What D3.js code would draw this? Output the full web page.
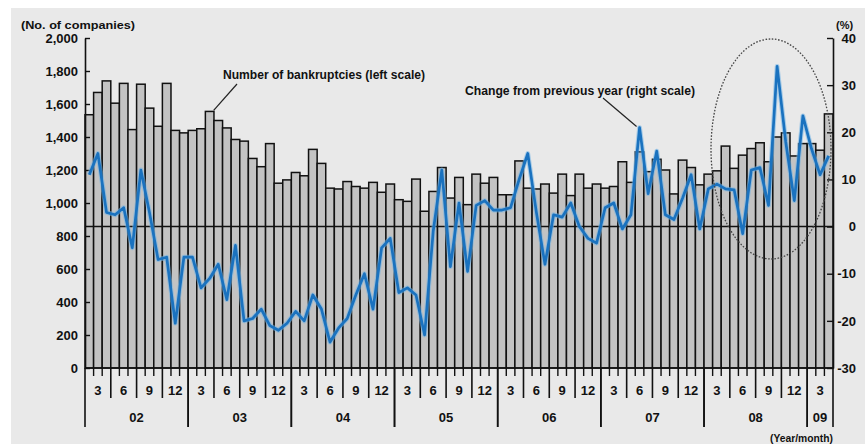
<!DOCTYPE html>
<html>
<head>
<meta charset="utf-8">
<script src="https://cdn.jsdelivr.net/npm/d3@7"></script>
<style>
  html, body { margin: 0; padding: 0; background: #ffffff; }
  svg { display: block; font-family: "Liberation Sans", Arial, sans-serif; font-weight: bold; }
</style>
</head>
<body>
<svg id="chart" width="865" height="444"></svg>
<script>
// Monthly corporate bankruptcies, Jan 2002 – Mar 2009
const years = ["02", "03", "04", "05", "06", "07", "08", "09"];
const monthsInYear = [12, 12, 12, 12, 12, 12, 12, 3];
const quarterLabels = ["3", "6", "9", "12"];

// Number of bankruptcies (left scale)
const bankruptcies = [
  1535, 1670, 1740, 1605, 1725, 1445, 1720, 1575, 1465, 1725, 1440, 1425, // 02
  1440, 1450, 1555, 1500, 1455, 1385, 1375, 1270, 1220, 1360, 1120, 1140, // 03
  1185, 1165, 1325, 1240, 1090, 1085, 1130, 1100, 1090, 1125, 1065, 1115, // 04
  1020, 1010, 1145,  950, 1070, 1215, 1030, 1155,  990, 1175, 1120, 1155, // 05
  1050, 1050, 1255, 1090, 1085, 1115, 1060, 1175, 1045, 1175, 1090, 1115, // 06
  1090, 1100, 1250, 1125, 1310, 1190, 1265, 1200, 1055, 1260, 1215, 1110, // 07
  1175, 1195, 1345, 1210, 1290, 1330, 1365, 1250, 1400, 1425, 1285, 1360, // 08
  1360, 1320, 1540                                                        // 09
];

// Change from previous year, % (right scale)
const yoyChange = [
   11, 15.5,    3,  2.5,    4, -4.5,   12,    3,   -7, -6.5, -20.5, -6.5, // 02
 -6.5,  -13,  -11,   -8, -15.5,  -4,  -20, -19.5, -17.5, -21,  -22, -20.5, // 03
  -18,  -20, -14.5, -17.5, -24.5, -21.5, -19.5, -14.5, -10, -17.5, -4.5, -2.5, // 04
  -14,  -13, -14.5,  -23,   -1,   12, -8.5,    5, -9.5,  4.5,  5.5,  3.5, // 05
  3.5,    4,   10, 15.5,    3,   -8,  2.5,    2,    5,    0, -2.5, -3.5, // 06
    4,    5, -0.5,  2.5,   21,    7,   16,  2.5,  1.5,    6,   11, -0.5, // 07
    8,    9,    8,  7.8, -1.5,   12, 12.5,  4.5,   34,   18,  5.5, 23.5, // 08
 16.5,   11,   15                                                        // 09
];

const leftTicks = [0, 200, 400, 600, 800, 1000, 1200, 1400, 1600, 1800, 2000];
const rightTicks = [-30, -20, -10, 0, 10, 20, 30, 40];

const svg = d3.select("#chart");

// page background
svg.append("rect").attr("x", 11).attr("y", 8).attr("width", 854).attr("height", 436).attr("fill", "#e9e9e9");

const plot = { left: 85, right: 833, top: 38, bottom: 368 };

const x = d3.scaleBand().domain(d3.range(bankruptcies.length)).range([plot.left, plot.right]).padding(0);
const yLeft = d3.scaleLinear().domain([0, 2000]).range([plot.bottom, plot.top]);
const yRight = d3.scaleLinear().domain([-30, 40]).range([plot.bottom, plot.top]);

// bars
svg.append("g").selectAll("rect").data(bankruptcies).join("rect")
  .attr("x", (d, i) => x(i))
  .attr("width", x.step())
  .attr("y", d => yLeft(d))
  .attr("height", d => yLeft(0) - yLeft(d))
  .attr("fill", "#c3c3c3")
  .attr("stroke", "#111")
  .attr("stroke-width", 1.5);

// zero line for the right scale
svg.append("line")
  .attr("x1", plot.left).attr("x2", plot.right)
  .attr("y1", yRight(0)).attr("y2", yRight(0))
  .attr("stroke", "#111").attr("stroke-width", 1.6);

// left axis
const gL = svg.append("g").attr("transform", `translate(${plot.left},0)`)
  .call(d3.axisLeft(yLeft).tickValues(leftTicks).tickFormat(d3.format(","))
    .tickSizeInner(-5).tickSizeOuter(0).tickPadding(7));
gL.select(".domain").attr("stroke", "#111").attr("stroke-width", 1.6);
gL.selectAll(".tick line").attr("stroke", "#111").attr("stroke-width", 1.4);
gL.selectAll(".tick text").attr("font-size", 13).attr("font-family", "Liberation Sans, Arial, sans-serif")
  .attr("font-weight", "bold").attr("fill", "#111");

// right axis
const gR = svg.append("g").attr("transform", `translate(${plot.right},0)`)
  .call(d3.axisRight(yRight).tickValues(rightTicks).tickFormat(d3.format("d"))
    .tickSizeInner(-6).tickSizeOuter(0).tickPadding(5));
gR.select(".domain").attr("stroke", "#111").attr("stroke-width", 1.6);
gR.selectAll(".tick line").attr("stroke", "#111").attr("stroke-width", 1.4);
gR.selectAll(".tick text").attr("font-size", 13).attr("font-family", "Liberation Sans, Arial, sans-serif")
  .attr("font-weight", "bold").attr("fill", "#111")
  .attr("text-anchor", "end").attr("x", 23)
  .text(d => d < 0 ? "-" + Math.abs(d) : d);

// bottom axis: month, quarter and year divisions
const axisY = plot.bottom;
const bottom = svg.append("g");
bottom.append("line").attr("x1", plot.left).attr("x2", plot.right)
  .attr("y1", axisY).attr("y2", axisY).attr("stroke", "#111").attr("stroke-width", 1.6);

let idx = 0;
years.forEach((yr, yi) => {
  const n = monthsInYear[yi];
  const x0 = x(idx);
  const x1 = idx + n < bankruptcies.length ? x(idx + n) : plot.right;
  for (let m = 0; m <= n; m++) {
    const xm = (idx + m) < bankruptcies.length ? x(idx + m) : plot.right;
    let len = 8;
    if (m === 0 || m === n) len = 59;
    else if (m % 3 === 0) len = 30;
    bottom.append("line").attr("x1", xm).attr("x2", xm)
      .attr("y1", axisY).attr("y2", axisY + len)
      .attr("stroke", "#111").attr("stroke-width", len > 8 ? 1.6 : 1.4);
  }
  for (let q = 0; q < n / 3; q++) {
    const qa = x(idx + q * 3);
    const qb = (idx + q * 3 + 3) < bankruptcies.length ? x(idx + q * 3 + 3) : plot.right;
    bottom.append("text").attr("x", (qa + qb) / 2).attr("y", axisY + 27)
      .attr("text-anchor", "middle").attr("font-size", 13).attr("fill", "#111")
      .text(quarterLabels[q]);
  }
  bottom.append("text").attr("x", (x0 + x1) / 2).attr("y", axisY + 54)
    .attr("text-anchor", "middle").attr("font-size", 13).attr("fill", "#111")
    .text(yr);
  idx += n;
});

// year-on-year change line
const line = d3.line()
  .x((d, i) => x(i) + x.bandwidth() / 2)
  .y(d => yRight(d));
svg.append("path").datum(yoyChange).attr("d", line)
  .attr("fill", "none").attr("stroke", "#6fb3e6").attr("stroke-width", 4.8)
  .attr("stroke-opacity", 0.55).attr("stroke-linejoin", "round");
svg.append("path").datum(yoyChange).attr("d", line)
  .attr("fill", "none").attr("stroke", "#1a72bf").attr("stroke-width", 2.7)
  .attr("stroke-linejoin", "round");

// dotted highlight around the latest months
svg.append("ellipse").attr("cx", 771).attr("cy", 149).attr("rx", 60).attr("ry", 110)
  .attr("fill", "none").attr("stroke", "#444").attr("stroke-width", 1.3)
  .attr("stroke-dasharray", "1.6 1.6");

// axis titles
svg.append("text").attr("x", 21).attr("y", 29).attr("font-size", 11.5).attr("fill", "#111")
  .attr("textLength", 114).attr("lengthAdjust", "spacingAndGlyphs")
  .text("(No. of companies)");
svg.append("text").attr("x", 836).attr("y", 29).attr("font-size", 11).attr("fill", "#111")
  .text("(%)");
svg.append("text").attr("x", 770).attr("y", 442).attr("font-size", 10).attr("fill", "#111")
  .attr("textLength", 63).attr("lengthAdjust", "spacingAndGlyphs")
  .text("(Year/month)");

// series annotations with leader lines
svg.append("text").attr("x", 223).attr("y", 79).attr("font-size", 12).attr("fill", "#111")
  .attr("textLength", 202).attr("lengthAdjust", "spacingAndGlyphs")
  .text("Number of bankruptcies (left scale)");
svg.append("line").attr("x1", 237).attr("y1", 84).attr("x2", x(14) + x.bandwidth() / 2 + 4).attr("y2", yLeft(bankruptcies[14]) - 1)
  .attr("stroke", "#222").attr("stroke-width", 1.2);

svg.append("text").attr("x", 465).attr("y", 95).attr("font-size", 12).attr("fill", "#111")
  .attr("textLength", 230).attr("lengthAdjust", "spacingAndGlyphs")
  .text("Change from previous year (right scale)");
svg.append("line").attr("x1", 603).attr("y1", 98).attr("x2", x(64) + x.bandwidth() / 2 - 3).attr("y2", yRight(yoyChange[64]) - 1)
  .attr("stroke", "#222").attr("stroke-width", 1.2);
</script>
</body>
</html>
